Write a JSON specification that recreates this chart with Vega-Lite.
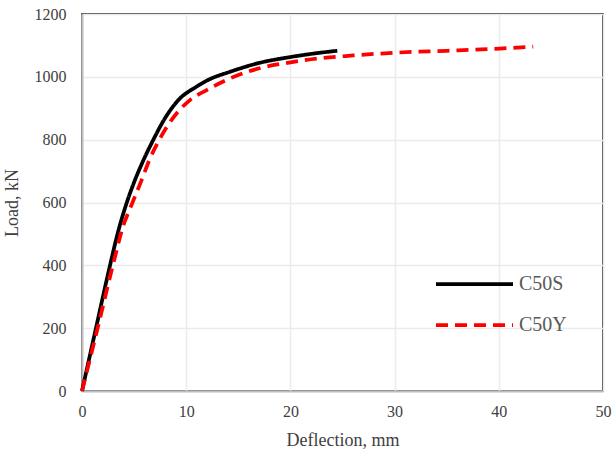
{
  "$schema": "https://vega.github.io/schema/vega-lite/v6.json",
  "width": 521,
  "height": 377,
  "autosize": {"type": "none"},
  "padding": {"left": 82, "top": 14, "right": 13, "bottom": 68},
  "background": "white",
  "data": {
    "values": [
      {"series": "C50S", "d": 0, "load": 0},
      {"series": "C50S", "d": 1.34, "load": 200},
      {"series": "C50S", "d": 2.69, "load": 400},
      {"series": "C50S", "d": 3.45, "load": 505},
      {"series": "C50S", "d": 4.3, "load": 600},
      {"series": "C50S", "d": 5.09, "load": 672},
      {"series": "C50S", "d": 5.9, "load": 735},
      {"series": "C50S", "d": 6.85, "load": 800},
      {"series": "C50S", "d": 7.87, "load": 863},
      {"series": "C50S", "d": 9.25, "load": 926},
      {"series": "C50S", "d": 11.0, "load": 969},
      {"series": "C50S", "d": 12.1, "load": 990},
      {"series": "C50S", "d": 14.2, "load": 1016},
      {"series": "C50S", "d": 17.1, "load": 1045},
      {"series": "C50S", "d": 20.0, "load": 1063},
      {"series": "C50S", "d": 22.0, "load": 1073},
      {"series": "C50S", "d": 24.5, "load": 1083},
      {"series": "C50Y", "d": 0, "load": 0},
      {"series": "C50Y", "d": 1.5, "load": 200},
      {"series": "C50Y", "d": 3.0, "load": 405},
      {"series": "C50Y", "d": 4.0, "load": 530},
      {"series": "C50Y", "d": 4.6, "load": 580},
      {"series": "C50Y", "d": 5.73, "load": 672},
      {"series": "C50Y", "d": 6.46, "load": 735},
      {"series": "C50Y", "d": 7.42, "load": 800},
      {"series": "C50Y", "d": 8.6, "load": 863},
      {"series": "C50Y", "d": 10.36, "load": 926},
      {"series": "C50Y", "d": 11.97, "load": 958},
      {"series": "C50Y", "d": 14.2, "load": 995},
      {"series": "C50Y", "d": 17.1, "load": 1028},
      {"series": "C50Y", "d": 20.0, "load": 1046},
      {"series": "C50Y", "d": 22.0, "load": 1056},
      {"series": "C50Y", "d": 26.0, "load": 1068},
      {"series": "C50Y", "d": 30.2, "load": 1077},
      {"series": "C50Y", "d": 35.0, "load": 1083},
      {"series": "C50Y", "d": 40.1, "load": 1090},
      {"series": "C50Y", "d": 43.3, "load": 1096}
    ]
  },
  "mark": {"type": "line", "strokeWidth": 3.75, "interpolate": "monotone"},
  "encoding": {
    "x": {
      "field": "d",
      "type": "quantitative",
      "title": "Deflection, mm",
      "scale": {"domain": [0, 50], "nice": false},
      "axis": {"values": [0, 10, 20, 30, 40, 50], "labelPadding": 12, "titlePadding": 12}
    },
    "y": {
      "field": "load",
      "type": "quantitative",
      "title": "Load, kN",
      "scale": {"domain": [0, 1200], "nice": false},
      "axis": {"values": [0, 200, 400, 600, 800, 1000, 1200], "format": "d", "labelPadding": 16, "titlePadding": 13}
    },
    "color": {
      "field": "series",
      "type": "nominal",
      "scale": {"domain": ["C50S", "C50Y"], "range": ["#000000", "#ff0000"]},
      "legend": {
        "title": null,
        "orient": "none",
        "legendX": 352,
        "legendY": 255,
        "symbolType": "stroke",
        "symbolSize": 5929,
        "symbolStrokeWidth": 3.75,
        "clipHeight": 30,
        "rowPadding": 11,
        "labelFont": "Liberation Serif",
        "labelFontSize": 20,
        "labelColor": "#595959",
        "labelOffset": 4
      }
    },
    "strokeDash": {
      "field": "series",
      "type": "nominal",
      "scale": {"domain": ["C50S", "C50Y"], "range": [[1, 0], [12, 7]]},
      "legend": null
    }
  },
  "config": {
    "view": {"stroke": "#000000", "strokeWidth": 1.5},
    "axis": {
      "labelFont": "Liberation Serif",
      "labelFontSize": 16,
      "labelColor": "#404040",
      "labelFlush": false,
      "titleFont": "Liberation Serif",
      "titleFontSize": 18,
      "titleFontWeight": "normal",
      "titleColor": "#404040",
      "ticks": false,
      "domainColor": "#bfbfbf",
      "domainWidth": 2,
      "gridColor": "#ebebeb",
      "gridWidth": 1.5
    }
  }
}
